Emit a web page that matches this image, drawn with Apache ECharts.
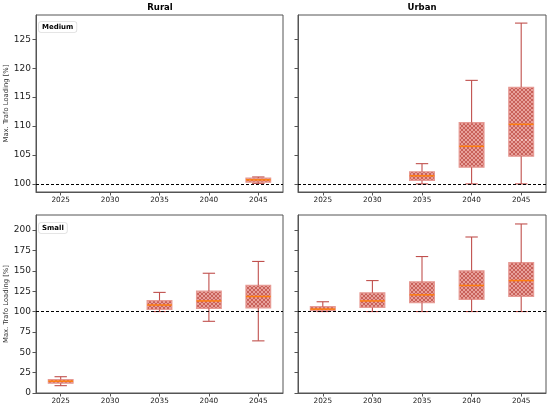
<!DOCTYPE html>
<html>
<head>
<meta charset="UTF-8">
<title>Max. Trafo Loading</title>
<script src="https://cdn.jsdelivr.net/npm/echarts@6/dist/echarts.min.js"></script>
<style>
    html, body { margin: 0; padding: 0; background: #fff; }
    #main { width: 550px; height: 408px; }
</style>
</head>
<body>
<div id="main"></div>
<script>
    var years = ['2025', '2030', '2035', '2040', '2045'];
    // [min, q1, median, q3, max] per year, null = no box
    var ruralMedium = [null, null, null, null, [100.1, 100.3, 100.7, 101.0, 101.2]];
    var urbanMedium = [null, null, [100, 100.6, 101.4, 102.1, 103.5], [100, 102.9, 106.5, 110.6, 117.9], [100, 104.8, 110.3, 116.7, 127.8]];
    var urbanMediumMean = [null, null, null, null, 107.6];
    var ruralSmall = [[9, 12, 14.5, 16.5, 20], null, [100, 102.5, 108, 113.5, 123.5], [88, 104, 113, 125, 147], [64, 104.5, 118.5, 132, 161.5]];
    var urbanSmall = [[100, 101, 103, 106, 112], [100, 105, 113, 123, 138], [100, 111, 120.5, 136.5, 167.5], [100, 115, 132, 150, 191.5], [100, 118.5, 138, 160, 207.5]];
    var mediumTicks = [100, 105, 110, 115, 120, 125];
    var smallTicks = [0, 25, 50, 75, 100, 125, 150, 175, 200];
    var limitValue = 100;

    var FONT = 'DejaVu Sans';
    var AXIS_COLOR = '#555';

    // cross hatch tile for the boxes
    var tile = document.createElement('canvas');
    tile.width = 4;
    tile.height = 4;
    var tctx = tile.getContext('2d');
    tctx.fillStyle = '#e8a19b';
    tctx.fillRect(0, 0, 4, 4);
    tctx.strokeStyle = '#bf5049';
    tctx.lineWidth = 0.8;
    tctx.beginPath();
    tctx.moveTo(-1, -1); tctx.lineTo(5, 5);
    tctx.moveTo(5, -1); tctx.lineTo(-1, 5);
    tctx.stroke();
    var hatch = {image: tile, repeat: 'repeat'};

    function buildData(stats, means) {
        var out = [];
        stats.forEach(function (s, i) {
            if (!s) return;
            var m = means && means[i] != null ? means[i] : NaN;
            out.push([i, s[0], s[1], s[2], s[3], s[4], m]);
        });
        return out;
    }

    function whiskerStyle() {
        return {stroke: '#c0504d', lineWidth: 1.1};
    }

    function renderBox(params, api) {
        var i = api.value(0);
        var band = api.size([1, 0])[0];
        var half = band * 0.25, cap = band * 0.125;
        var lo = api.coord([i, api.value(1)]);
        var q1 = api.coord([i, api.value(2)]);
        var md = api.coord([i, api.value(3)]);
        var q3 = api.coord([i, api.value(4)]);
        var hi = api.coord([i, api.value(5)]);
        var cx = md[0];
        var children = [
            {type: 'rect', shape: {x: cx - half, y: q3[1], width: half * 2, height: q1[1] - q3[1]},
                style: {fill: hatch, stroke: '#e69a94', lineWidth: 1.2}},
            {type: 'line', shape: {x1: cx, y1: q3[1], x2: cx, y2: hi[1]}, style: whiskerStyle()},
            {type: 'line', shape: {x1: cx, y1: q1[1], x2: cx, y2: lo[1]}, style: whiskerStyle()},
            {type: 'line', shape: {x1: cx - cap, y1: hi[1], x2: cx + cap, y2: hi[1]}, style: whiskerStyle()},
            {type: 'line', shape: {x1: cx - cap, y1: lo[1], x2: cx + cap, y2: lo[1]}, style: whiskerStyle()},
            {type: 'line', shape: {x1: cx - half, y1: md[1], x2: cx + half, y2: md[1]},
                style: {stroke: '#ff7f0e', lineWidth: 1.5}}
        ];
        var mean = api.value(6);
        if (!isNaN(mean)) {
            var mn = api.coord([i, mean]);
            children.push({type: 'line', shape: {x1: cx - half, y1: mn[1], x2: cx + half, y2: mn[1]},
                style: {stroke: '#fbe3e0', lineWidth: 1, lineDash: [2, 2]}});
        }
        return {type: 'group', children: children};
    }

    function boxSeries(idx, stats, means) {
        return {
            type: 'custom',
            xAxisIndex: idx,
            yAxisIndex: idx,
            renderItem: renderBox,
            data: buildData(stats, means),
            silent: true,
            markLine: {
                silent: true,
                symbol: 'none',
                label: {show: false},
                lineStyle: {type: [3, 2], color: '#000', width: 1},
                data: [{yAxis: limitValue}]
            }
        };
    }

    function xAxisFor(idx) {
        return {
            type: 'category',
            gridIndex: idx,
            data: years,
            boundaryGap: true,
            axisLine: {show: true, lineStyle: {color: AXIS_COLOR}},
            axisTick: {show: true, alignWithLabel: true, length: 3.5, lineStyle: {color: AXIS_COLOR}},
            axisLabel: {fontSize: 7.3, color: '#222', margin: 5, fontFamily: FONT},
            splitLine: {show: false}
        };
    }

    function yAxisFor(idx, min, max, ticks, showLabels) {
        return {
            type: 'value',
            gridIndex: idx,
            min: min,
            max: max,
            axisLine: {show: true, lineStyle: {color: AXIS_COLOR}},
            axisTick: {show: true, length: 3.5, customValues: ticks, lineStyle: {color: AXIS_COLOR}},
            axisLabel: {show: showLabels, customValues: ticks, fontSize: 9, color: '#222', margin: 5, fontFamily: FONT},
            splitLine: {show: false},
            name: showLabels ? 'Max. Trafo Loading [%]' : '',
            nameLocation: 'middle',
            nameGap: 25,
            nameTextStyle: {fontSize: 6.8, color: '#333', fontFamily: FONT}
        };
    }

    function gridAt(left, top, width, height) {
        return {left: left, top: top, width: width, height: height, show: true,
            borderColor: AXIS_COLOR, borderWidth: 1, backgroundColor: 'transparent'};
    }

    function panelTag(text, x, y) {
        return {type: 'text', x: x, y: y, silent: true,
            style: {text: text, font: 'bold 7px "DejaVu Sans"', fill: '#000',
                backgroundColor: '#fff', borderColor: '#ddd', borderWidth: 0.8,
                borderRadius: 2, padding: [2, 3, 1, 3]}};
    }

    function headText(text, x) {
        return {type: 'text', x: x, y: 8, silent: true,
            style: {text: text, font: 'bold 8.5px "DejaVu Sans"', fill: '#000',
                align: 'center', verticalAlign: 'middle'}};
    }

    var chart = echarts.init(document.getElementById('main'));
    var option = {
        animation: false,
        backgroundColor: '#fff',
        grid: [
            gridAt(36, 15, 247, 177),
            gridAt(298, 15, 248, 177),
            gridAt(36, 215, 247, 178),
            gridAt(298, 215, 248, 178)
        ],
        xAxis: [xAxisFor(0), xAxisFor(1), xAxisFor(2), xAxisFor(3)],
        yAxis: [
            yAxisFor(0, 98.6, 129.2, mediumTicks, true),
            yAxisFor(1, 98.6, 129.2, mediumTicks, false),
            yAxisFor(2, 0, 218.5, smallTicks, true),
            yAxisFor(3, 0, 218.5, smallTicks, false)
        ],
        series: [
            boxSeries(0, ruralMedium),
            boxSeries(1, urbanMedium, urbanMediumMean),
            boxSeries(2, ruralSmall),
            boxSeries(3, urbanSmall)
        ],
        graphic: [
            headText('Rural', 160),
            headText('Urban', 422),
            panelTag('Medium', 39, 22),
            panelTag('Small', 39, 223)
        ]
    };
    chart.setOption(option);
</script>
</body>
</html>
